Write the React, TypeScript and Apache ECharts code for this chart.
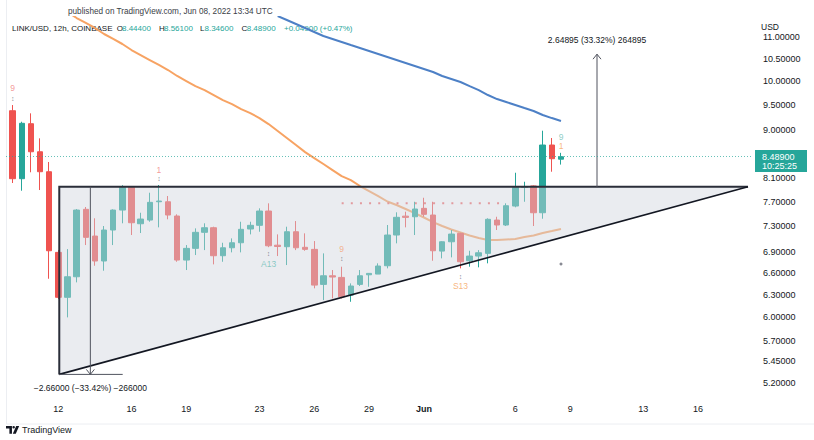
import React, { useEffect, useRef } from "react";
import * as echarts from "echarts";

// 12h candles, index k = half-days from 12 May 2022 00:00 (k = 0)
const FIRST_K = -5;
const opens = [9.378, 8.095, 9.118, 8.581, 8.218, 6.902, 6.262, 6.547, 7.576, 7.15, 6.774, 7.244, 7.564, 7.945, 7.343, 7.402, 7.701, 7.701, 7.467, 6.788, 6.962, 7.208, 7.28, 6.852, 6.971, 7.047, 7.26, 7.318, 7.548, 7.01, 6.987, 7.217, 6.978, 6.947, 6.44, 6.561, 6.538, 6.293, 6.44, 6.575, 6.585, 6.705, 7.166, 7.465, 7.455, 7.592, 7.483, 6.921, 7.062, 7.192, 6.778, 6.847, 6.887, 7.402, 7.323, 7.63, 7.945, 7.968, 7.52, 8.707, 8.444];
const highs = [9.494, 9.157, 9.325, 8.834, 8.393, 6.936, 6.951, 7.58, 7.614, 7.43, 7.307, 7.576, 7.98, 7.968, 7.52, 7.853, 7.985, 7.797, 7.494, 7.012, 7.27, 7.35, 7.296, 7.047, 7.114, 7.375, 7.375, 7.592, 7.675, 7.176, 7.296, 7.386, 7.192, 7.073, 6.887, 6.643, 6.691, 6.454, 6.643, 6.6, 6.74, 7.323, 7.527, 7.537, 7.701, 7.768, 7.701, 7.07, 7.244, 7.201, 6.926, 6.936, 7.43, 7.455, 7.675, 8.2, 8.042, 7.975, 8.981, 8.84, 8.561];
const lows = [8.02, 7.887, 8.208, 7.899, 6.519, 6.239, 5.996, 6.468, 7.012, 6.705, 6.633, 7.012, 7.35, 7.166, 7.197, 7.375, 7.286, 7.414, 6.763, 6.643, 6.862, 6.936, 6.725, 6.763, 6.902, 6.902, 7.176, 7.217, 6.98, 6.847, 6.715, 6.936, 6.926, 6.385, 6.225, 6.248, 6.248, 6.202, 6.417, 6.407, 6.585, 6.667, 7.038, 7.286, 7.166, 7.455, 6.778, 6.813, 6.828, 6.667, 6.691, 6.682, 6.74, 7.244, 7.307, 7.609, 7.701, 7.307, 7.423, 8.218, 8.346];
const closes = [8.095, 9.126, 8.581, 8.218, 6.926, 6.262, 6.547, 7.564, 7.13, 6.774, 7.244, 7.564, 7.945, 7.359, 7.418, 7.691, 7.713, 7.483, 6.788, 6.962, 7.208, 7.28, 6.852, 6.971, 7.047, 7.255, 7.318, 7.548, 7.001, 6.99, 7.217, 6.971, 6.947, 6.43, 6.561, 6.543, 6.27, 6.417, 6.561, 6.595, 6.701, 7.166, 7.446, 7.445, 7.581, 7.494, 6.926, 7.062, 7.181, 6.763, 6.847, 6.896, 7.414, 7.323, 7.635, 7.945, 7.956, 7.52, 8.707, 8.453, 8.489];

// moving averages (orange: shorter, blue: longer)
const MA_FAST_START = 1;
const maFast = [11.612, 11.462, 11.339, 11.217, 11.072, 10.953, 10.835, 10.695, 10.58, 10.466, 10.354, 10.242, 10.11, 10.0, 9.892, 9.807, 9.702, 9.597, 9.514, 9.412, 9.331, 9.23, 9.111, 8.974, 8.84, 8.707, 8.575, 8.465, 8.356, 8.248, 8.141, 8.071, 7.968, 7.882, 7.797, 7.705, 7.647, 7.581, 7.515, 7.443, 7.37, 7.307, 7.252, 7.205, 7.158, 7.12, 7.089, 7.089, 7.097, 7.104, 7.135, 7.158, 7.197, 7.228, 7.26];
const MA_SLOW_START = 24;
const maSlow = [11.511, 11.412, 11.314, 11.217, 11.12, 11.024, 10.953, 10.882, 10.811, 10.742, 10.672, 10.603, 10.534, 10.466, 10.399, 10.331, 10.264, 10.198, 10.11, 10.044, 9.979, 9.892, 9.807, 9.702, 9.618, 9.556, 9.494, 9.432, 9.372, 9.291, 9.23, 9.172];

// ascending triangle drawing
const triangleK = [0.1, 0.1, 75.46];
const trianglePrice = [7.955, 5.3, 7.955];

// TD resistance dots
const tdLineK = [31, 49];
const tdLinePrice = 7.675;

// price range measurements
const measureK = [3.5, 58.94];
const measureFrom = [7.955, 7.95];
const measureTo = [5.3, 10.599];
const measureLabels = ["\u22122.66000 (\u221233.42%) \u2212266000", "2.64895 (33.32%) 264895"];
const measureBaseK = [0.1, 7.04];

// TD sequential marks
const markK = [-5, -5, 11, 11, 23, 23, 31, 31, 44, 44, 55, 55];
const markPrice = [9.85, 9.639, 8.248, 8.107, 6.892, 6.73, 6.951, 6.818, 6.557, 6.417, 8.868, 8.697];
const markText = ["9", "\u2195", "1", "\u2195", "\u2195", "A13", "9", "\u2195", "\u2195", "S13", "9", "1"];
const markColor = ["#f07f7f", "#6a6d78", "#f07f7f", "#6a6d78", "#6a6d78", "#6fbfb7", "#f5a477", "#6a6d78", "#6a6d78", "#f5a35e", "#6fbfb7", "#f5a35e"];
const dotK = [55];
const dotPrice = [6.73];

const lastPrice = 8.489;

// axes
const xTickK = [0, 8, 14, 22, 28, 34, 40, 50, 56, 64, 70];
const xTickLabels = ["12", "16", "19", "23", "26", "29", "Jun", "6", "9", "13", "16"];
const yTicks = [5.2, 5.45, 5.7, 6.0, 6.3, 6.6, 6.9, 7.3, 7.7, 8.1, 8.5, 9.0, 9.5, 10.0, 10.5, 11.0];

const FONT = "'Liberation Sans', Arial, sans-serif";
const ln = Math.log;

echarts.graphic.registerShape(
  "tvlogo",
  echarts.graphic.extendPath(
    "M0 0H7V9H4V3H0Z M9 0A1.5 1.5 0 1 1 9 3A1.5 1.5 0 1 1 9 0Z M12 0H15.5L11.5 9H8Z",
    {}
  )
);

export default function App() {
  const ref = useRef<HTMLDivElement>(null);
  useEffect(() => {
    const chart = echarts.init(ref.current!, null, { renderer: "svg" });
    const candleData = opens.map((o, i) => [FIRST_K + i, ln(o), ln(closes[i]), ln(lows[i]), ln(highs[i])]);
    const fastData = maFast.map((v, i) => [MA_FAST_START + i, ln(v)]);
    const slowData = maSlow.map((v, i) => [MA_SLOW_START + i, ln(v)]);

    const option: any = {
      animation: false,
      backgroundColor: "#ffffff",
      grid: { left: 6, right: 62, top: 17, bottom: 42 },
      xAxis: {
        type: "value",
        min: -5.73,
        max: 75.9,
        axisLine: { show: false },
        axisTick: { show: false },
        splitLine: { show: false },
        axisLabel: {
          customValues: xTickK,
          margin: 6,
          color: "#131722",
          fontSize: 9,
          fontFamily: FONT,
          formatter: (v: number) => {
            const i = xTickK.indexOf(Math.round(v));
            const t = i >= 0 ? xTickLabels[i] : "";
            return t === "Jun" ? "{b|Jun}" : t;
          },
          rich: { b: { fontWeight: "bold", fontSize: 9, fontFamily: FONT, color: "#131722" } },
        },
      },
      yAxis: {
        type: "value",
        position: "right",
        min: ln(5.036),
        max: ln(11.487),
        axisLine: { show: false },
        axisTick: { show: false },
        splitLine: { show: false },
        axisLabel: {
          customValues: yTicks.map((t) => ln(t)),
          margin: 11,
          align: "left",
          color: "#131722",
          fontSize: 9,
          fontFamily: FONT,
          formatter: (v: number) => Math.exp(v).toFixed(5),
        },
      },
      series: [
        {
          type: "candlestick",
          data: candleData,
          barWidth: 6,
          z: 2,
          itemStyle: {
            color: "#26a69a",
            color0: "#ef5350",
            borderColor: "#26a69a",
            borderColor0: "#ef5350",
            borderWidth: 1,
          },
          markLine: {
            silent: true,
            symbol: ["none", "none"],
            label: { show: false },
            lineStyle: { color: "rgba(38,166,154,0.7)", type: [1, 2], width: 1 },
            data: [{ yAxis: ln(lastPrice) }],
          },
        },
        {
          type: "line",
          data: fastData,
          showSymbol: false,
          z: 2,
          lineStyle: { color: "#f7a363", width: 2 },
        },
        {
          type: "line",
          data: slowData,
          showSymbol: false,
          z: 2,
          lineStyle: { color: "#4d80c6", width: 2 },
        },
        {
          type: "line",
          data: tdLineK.map((k) => [k, ln(tdLinePrice)]),
          showSymbol: false,
          z: 2,
          lineStyle: { color: "#f06b6b", width: 2, type: [2, 7.14] },
        },
        {
          type: "custom",
          z: 3,
          data: [[triangleK[0], ln(trianglePrice[0])]],
          renderItem: (_p: any, api: any) => {
            const pts = triangleK.map((k, i) => api.coord([k, ln(trianglePrice[i])]));
            return {
              type: "group",
              children: [
                { type: "polygon", shape: { points: pts }, style: { fill: "rgba(209,212,222,0.45)" } },
                {
                  type: "polyline",
                  shape: { points: [pts[1], pts[0], pts[2]] },
                  style: { stroke: "#2a2e39", lineWidth: 2, fill: null },
                },
                {
                  type: "line",
                  shape: { x1: pts[1][0], y1: pts[1][1], x2: pts[2][0], y2: pts[2][1] },
                  style: { stroke: "#131722", lineWidth: 1.6 },
                },
              ],
            };
          },
        },
        {
          type: "custom",
          z: 4,
          data: measureK.map((k, i) => [k, ln(measureFrom[i])]),
          renderItem: (p: any, api: any) => {
            const i = p.dataIndex;
            const a = api.coord([measureK[i], ln(measureFrom[i])]);
            const b = api.coord([measureK[i], ln(measureTo[i])]);
            const s = b[1] > a[1] ? 1 : -1;
            const children: any[] = [
              { type: "line", shape: { x1: a[0], y1: a[1], x2: b[0], y2: b[1] }, style: { stroke: "#50535e", lineWidth: 1 } },
              {
                type: "polyline",
                shape: { points: [[b[0] - 4, b[1] - 5 * s], [b[0], b[1]], [b[0] + 4, b[1] - 5 * s]] },
                style: { stroke: "#50535e", lineWidth: 1, fill: null },
              },
              {
                type: "text",
                x: b[0],
                y: b[1] + 14 * s,
                style: {
                  text: measureLabels[i],
                  align: "center",
                  verticalAlign: "middle",
                  fill: "#131722",
                  fontSize: 8.5,
                  fontFamily: FONT,
                },
              },
            ];
            if (i === 0) {
              const l = api.coord([measureBaseK[0], ln(measureTo[0])]);
              const r = api.coord([measureBaseK[1], ln(measureTo[0])]);
              children.push({ type: "line", shape: { x1: l[0], y1: l[1], x2: r[0], y2: r[1] }, style: { stroke: "#50535e", lineWidth: 1 } });
            }
            return { type: "group", children };
          },
        },
        {
          type: "scatter",
          z: 6,
          symbolSize: 0,
          data: markK.map((k, i) => ({
            value: [k, ln(markPrice[i])],
            label: { color: markColor[i], fontSize: markText[i] === "\u2195" ? 7 : 8.5 },
          })),
          label: {
            show: true,
            position: "inside",
            fontFamily: FONT,
            formatter: (p: any) => markText[p.dataIndex],
          },
        },
        {
          type: "scatter",
          z: 6,
          symbol: "circle",
          symbolSize: 3,
          itemStyle: { color: "#6a6d78" },
          data: dotK.map((k, i) => [k, ln(dotPrice[i])]),
        },
      ],
      graphic: [
        { type: "line", shape: { x1: 6.5, y1: 0, x2: 6.5, y2: 424 }, style: { stroke: "#eceef2", lineWidth: 1 } },
        { type: "line", shape: { x1: 6.5, y1: 424, x2: 814, y2: 424 }, style: { stroke: "#eceef2", lineWidth: 1 } },
        {
          type: "text",
          x: 68,
          y: 11,
          style: { text: "published on TradingView.com, Jun 08, 2022 13:34 UTC", fill: "#3a3d46", fontSize: 8.2, fontFamily: FONT, verticalAlign: "middle" },
        },
        { type: "text", x: 12, y: 28, style: { text: "LINK/USD, 12h, COINBASE", fill: "#131722", fontSize: 8, fontFamily: FONT, verticalAlign: "middle" } },
        { type: "text", x: 116.7, y: 28, style: { text: "O", fill: "#131722", fontSize: 8, fontFamily: FONT, verticalAlign: "middle" } },
        { type: "text", x: 122, y: 28, style: { text: "8.44400", fill: "#26a69a", fontSize: 8, fontFamily: FONT, verticalAlign: "middle" } },
        { type: "text", x: 159, y: 28, style: { text: "H", fill: "#131722", fontSize: 8, fontFamily: FONT, verticalAlign: "middle" } },
        { type: "text", x: 164, y: 28, style: { text: "8.56100", fill: "#26a69a", fontSize: 8, fontFamily: FONT, verticalAlign: "middle" } },
        { type: "text", x: 200, y: 28, style: { text: "L", fill: "#131722", fontSize: 8, fontFamily: FONT, verticalAlign: "middle" } },
        { type: "text", x: 204.5, y: 28, style: { text: "8.34600", fill: "#26a69a", fontSize: 8, fontFamily: FONT, verticalAlign: "middle" } },
        { type: "text", x: 241.5, y: 28, style: { text: "C", fill: "#131722", fontSize: 8, fontFamily: FONT, verticalAlign: "middle" } },
        { type: "text", x: 246.7, y: 28, style: { text: "8.48900", fill: "#26a69a", fontSize: 8, fontFamily: FONT, verticalAlign: "middle" } },
        { type: "text", x: 284, y: 28, style: { text: "+0.04900 (+0.47%)", fill: "#26a69a", fontSize: 8, fontFamily: FONT, verticalAlign: "middle" } },
        { type: "text", x: 761, y: 27, style: { text: "USD", fill: "#131722", fontSize: 8.5, fontFamily: FONT, verticalAlign: "middle" } },
        { type: "rect", z: 100, shape: { x: 755, y: 150, width: 52, height: 22 }, style: { fill: "#26a69a" } },
        { type: "text", z: 101, x: 762, y: 156.5, style: { text: "8.48900", fill: "#ffffff", fontSize: 9, fontFamily: FONT, verticalAlign: "middle" } },
        { type: "text", z: 101, x: 762, y: 166, style: { text: "10:25:25", fill: "#ffffff", fontSize: 9, fontFamily: FONT, verticalAlign: "middle" } },
        { type: "tvlogo", x: 6, y: 426, scaleX: 0.85, scaleY: 0.85, style: { fill: "#131722" } },
        { type: "text", x: 22, y: 430, style: { text: "TradingView", fill: "#131722", fontSize: 9, fontFamily: FONT, verticalAlign: "middle" } },
      ],
    };
    chart.setOption(option);
    return () => chart.dispose();
  }, []);
  return (
    <div
      ref={ref}
      style={{ position: "fixed", left: 0, top: 0, width: 814, height: 440, background: "#fff" }}
    />
  );
}
